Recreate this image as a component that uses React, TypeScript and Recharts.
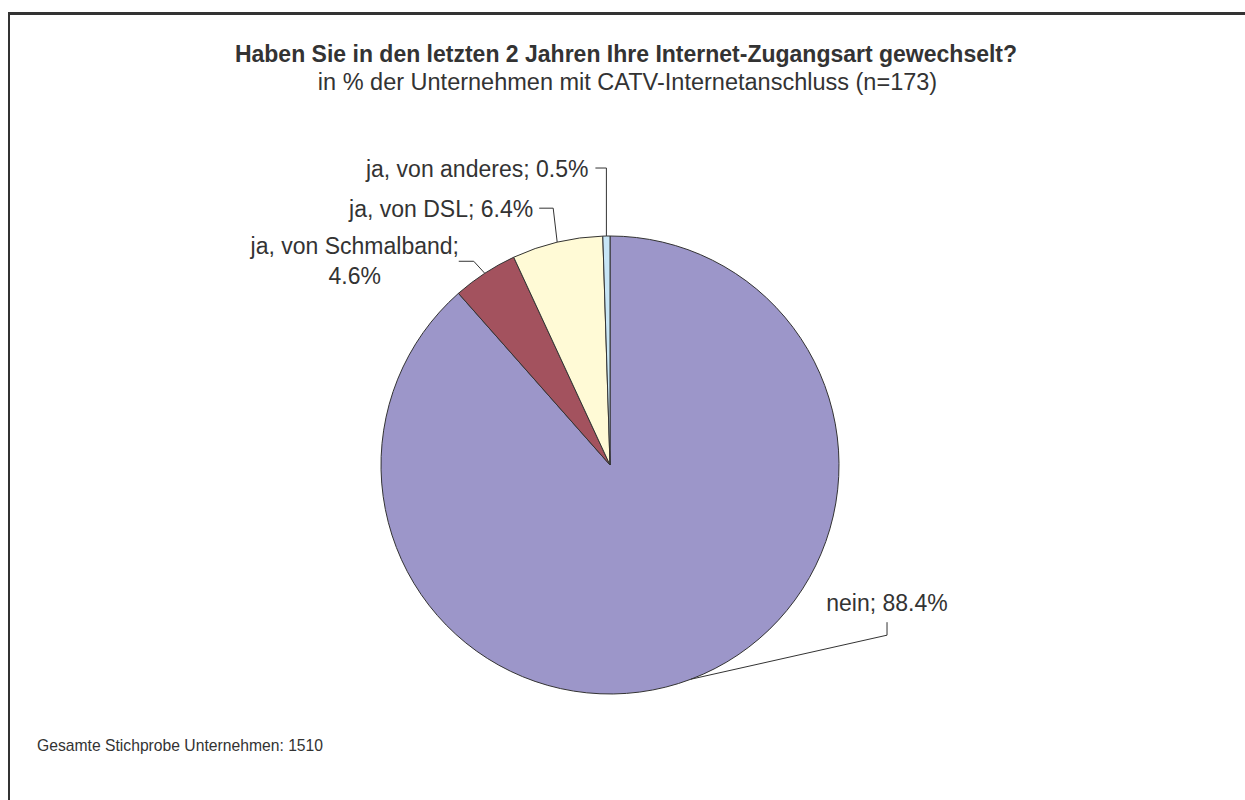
import React from 'react';
import { PieChart, Pie, Cell } from 'recharts';

const categories = ['nein', 'ja, von Schmalband', 'ja, von DSL', 'ja, von anderes'];
const shares = [88.4, 4.6, 6.4, 0.5];
const sliceColors = ['#9C96C9', '#A3525E', '#FFFAD6', '#C7E5F6'];

const titleText = 'Haben Sie in den letzten 2 Jahren Ihre Internet-Zugangsart gewechselt?';
const subtitleText = 'in % der Unternehmen mit CATV-Internetanschluss (n=173)';
const footerText = 'Gesamte Stichprobe Unternehmen: 1510';

const data = categories.map((name, i) => ({ name, value: shares[i] }));

// leader-line layout (offsets from the slice's outer edge point)
const labelLayout = [
  { elbow: [196, -44], end: [196, -57], text: [0, -19], anchor: 'middle', split: false },
  { elbow: [-11, -12], end: [-26, -12], text: [-104, -15], anchor: 'middle', split: true },
  { elbow: [-4, -34], end: [-18, -34], text: [-6, 1], anchor: 'end', split: false },
  { elbow: [0, -68], end: [-11, -68], text: [-7, 1], anchor: 'end', split: false },
];

const RAD = Math.PI / 180;
const TEXT = '#333333';
const FONT = 'Liberation Sans, Arial, sans-serif';
const LABEL_SIZE = 23;

const renderLabel = (props: any) => {
  const { cx, cy, midAngle, outerRadius, index } = props;
  const L = labelLayout[index];
  const ex = cx + outerRadius * Math.cos(-midAngle * RAD);
  const ey = cy + outerRadius * Math.sin(-midAngle * RAD);
  const bx = ex + L.elbow[0];
  const by = ey + L.elbow[1];
  const qx = ex + L.end[0];
  const qy = ey + L.end[1];
  const tx = qx + L.text[0];
  const ty = qy + L.text[1];
  const name = categories[index];
  const val = `${shares[index]}%`;
  return (
    <g key={`lbl-${index}`}>
      <polyline points={`${ex},${ey} ${bx},${by} ${qx},${qy}`} fill="none" stroke="#333" strokeWidth={1} />
      {L.split ? (
        <text x={tx} y={ty} textAnchor={L.anchor as any} fill={TEXT} fontSize={LABEL_SIZE} fontFamily={FONT}>
          <tspan x={tx} dy="0.35em">{`${name};`}</tspan>
          <tspan x={tx} dy="1.3em">{val}</tspan>
        </text>
      ) : (
        <text x={tx} y={ty} dy="0.35em" textAnchor={L.anchor as any} fill={TEXT} fontSize={LABEL_SIZE} fontFamily={FONT}>
          {`${name}; ${val}`}
        </text>
      )}
    </g>
  );
};

export default function App() {
  return (
    <div style={{ position: 'absolute', left: 0, top: 0, width: 1245, height: 800, background: '#fff', fontFamily: FONT, color: TEXT, overflow: 'hidden' }}>
      <div style={{ position: 'absolute', left: 8, top: 12, width: 1300, height: 900, borderTop: '3px solid #333', borderLeft: '2.5px solid #333', boxSizing: 'border-box' }} />
      <div style={{ position: 'absolute', left: 0, width: 1252, top: 42, textAlign: 'center', fontWeight: 'bold', fontSize: 23, lineHeight: '24px', whiteSpace: 'nowrap' }}>{titleText}</div>
      <div style={{ position: 'absolute', left: 0, width: 1255, top: 70, textAlign: 'center', fontSize: 23.5, lineHeight: '24px', whiteSpace: 'nowrap' }}>{subtitleText}</div>
      <div style={{ position: 'absolute', left: 37, top: 736, fontSize: 15.7, lineHeight: '20px', whiteSpace: 'nowrap' }}>{footerText}</div>
      <div style={{ position: 'absolute', left: 0, top: 0 }}>
        <PieChart width={1245} height={800} margin={{ top: 0, right: 0, bottom: 0, left: 0 }}>
          <Pie
            data={data}
            dataKey="value"
            nameKey="name"
            cx={610}
            cy={465}
            outerRadius={229}
            startAngle={90}
            endAngle={-270}
            stroke="#333"
            strokeWidth={1}
            label={renderLabel}
            labelLine={false}
            isAnimationActive={false}
          >
            {data.map((d, i) => (
              <Cell key={d.name} fill={sliceColors[i]} />
            ))}
          </Pie>
        </PieChart>
      </div>
    </div>
  );
}
